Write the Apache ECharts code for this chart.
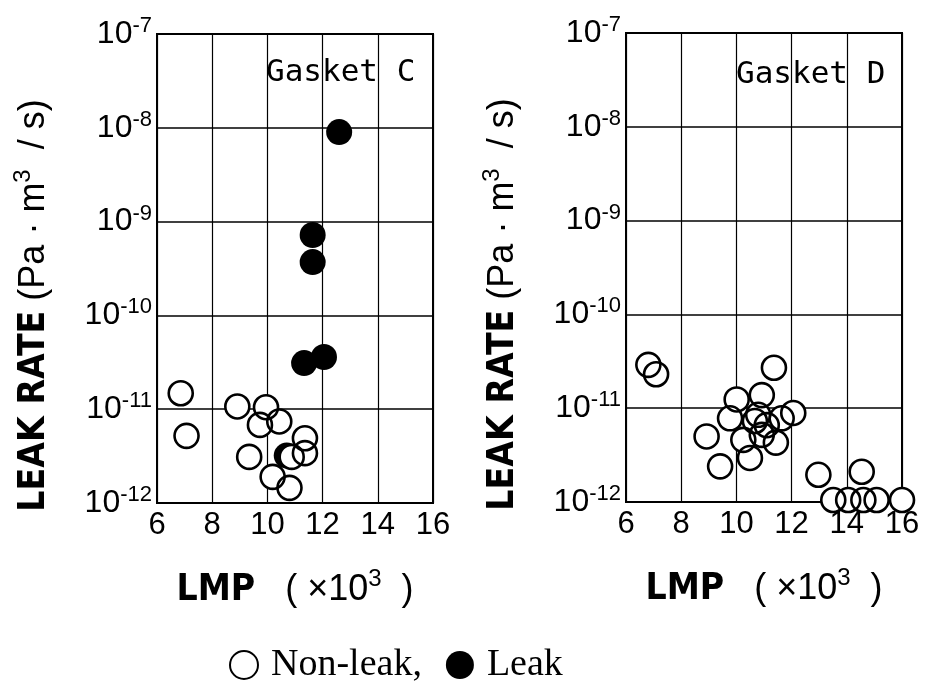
<!DOCTYPE html>
<html>
<head>
<meta charset="utf-8">
<script src="https://cdn.jsdelivr.net/npm/echarts@6/dist/echarts.min.js"></script>
<style>
html,body{margin:0;padding:0;background:#fff;}
#chart{width:930px;height:684px;}
</style>
</head>
<body>
<div id="chart"></div>
<script>
// ---- Data (LMP in 10^3, leak rate in Pa·m3/s) ----
const xTicks = [6, 8, 10, 12, 14, 16];
const yExponents = [-12, -11, -10, -9, -8, -7];

const gasketC_leak = [
  [12.6, 9e-9],
  [11.64, 7.2e-10],
  [11.64, 3.7e-10],
  [11.33, 3.1e-11],
  [12.05, 3.6e-11],
  [10.7, 3.2e-12]
];
const gasketC_nonleak = [
  [6.86, 1.48e-11],
  [7.07, 5.2e-12],
  [8.91, 1.07e-11],
  [9.95, 1.05e-11],
  [9.73, 6.8e-12],
  [10.43, 7.4e-12],
  [11.36, 4.9e-12],
  [11.36, 3.4e-12],
  [9.34, 3.1e-12],
  [10.88, 3.1e-12],
  [10.19, 1.9e-12],
  [10.8, 1.45e-12]
];
const gasketD_nonleak = [
  [6.81, 2.9e-11],
  [7.09, 2.3e-11],
  [11.36, 2.7e-11],
  [10.01, 1.24e-11],
  [10.92, 1.38e-11],
  [9.77, 7.8e-12],
  [8.92, 5.0e-12],
  [10.25, 4.6e-12],
  [10.67, 7.3e-12],
  [10.92, 5.2e-12],
  [11.10, 6.6e-12],
  [10.79, 8.5e-12],
  [11.43, 4.3e-12],
  [11.64, 7.8e-12],
  [12.06, 8.9e-12],
  [9.41, 2.4e-12],
  [10.49, 2.95e-12],
  [12.97, 1.95e-12],
  [14.54, 2.1e-12],
  [13.51, 1.05e-12],
  [14.05, 1.05e-12],
  [14.6, 1.05e-12],
  [15.08, 1.05e-12],
  [16.0, 1.05e-12]
];
const panelLabels = ['Gasket C', 'Gasket D'];
const legendNames = ['Non-leak', 'Leak'];

// ---- Styles ----
const sansFont = 'Liberation Sans';
const black = '#000';

function yLabel(v) {
  const e = Math.round(Math.log10(v));
  return '{b|10}{s|' + e + '}';
}
const yRich = {
  b: {fontSize: 32, fontFamily: sansFont, color: black, lineHeight: 38, verticalAlign: 'middle'},
  s: {fontSize: 22, fontFamily: sansFont, color: black, lineHeight: 22, verticalAlign: 'top'}
};
const nameRich = {
  l: {fontSize: 37, fontFamily: 'Liberation Sans Narrow, DejaVu Sans Condensed, Liberation Sans', fontWeight: 'bold', color: black, lineHeight: 46, verticalAlign: 'middle'},
  p: {fontSize: 36, fontFamily: sansFont, color: black, lineHeight: 46, verticalAlign: 'middle'},
  s: {fontSize: 24, fontFamily: sansFont, color: black, lineHeight: 24, verticalAlign: 'top'},
  g: {width: 74, lineHeight: 46}
};

function xAxisCfg(gi) {
  return {
    type: 'value', gridIndex: gi, min: xTicks[0], max: xTicks[xTicks.length - 1], interval: 2,
    axisLine: {show: true, lineStyle: {color: black, width: 2}},
    axisTick: {show: false},
    axisLabel: {color: black, fontSize: 31, fontFamily: sansFont, margin: 7},
    splitLine: {show: true, lineStyle: {color: black, width: 1.2}},
    name: '{l|LMP}{p|   ( ×10}{s|3}{p|  )}',
    nameLocation: 'middle', nameGap: 64,
    nameTextStyle: {rich: nameRich}
  };
}
function yAxisCfg(gi) {
  return {
    type: 'log', logBase: 10, gridIndex: gi,
    min: Math.pow(10, yExponents[0]), max: Math.pow(10, yExponents[yExponents.length - 1]),
    axisLine: {show: true, lineStyle: {color: black, width: 2}},
    axisTick: {show: false},
    axisLabel: {formatter: yLabel, rich: yRich, margin: 5},
    splitLine: {show: true, lineStyle: {color: black, width: 1.5}},
    name: '{l|LEAK RATE}{p| (Pa · m}{s|3}{p|  / s)}{g|}',
    nameLocation: 'middle', nameRotate: 90, nameGap: 100,
    nameTextStyle: {rich: nameRich}
  };
}

const symSize = 24;
function openFill(data, gi) {
  return {type: 'scatter', name: 'fill' + gi, xAxisIndex: gi, yAxisIndex: gi, data: data,
    symbol: 'circle', symbolSize: symSize, silent: true,
    itemStyle: {color: '#fff', borderWidth: 0, opacity: 1}};
}
function openRing(data, gi) {
  return {type: 'scatter', name: legendNames[0], xAxisIndex: gi, yAxisIndex: gi, data: data,
    symbol: 'circle', symbolSize: symSize,
    itemStyle: {color: 'rgba(255,255,255,0)', borderColor: black, borderWidth: 2.6, opacity: 1}};
}
function filled(data, gi) {
  return {type: 'scatter', name: legendNames[1], xAxisIndex: gi, yAxisIndex: gi, data: data,
    symbol: 'circle', symbolSize: symSize + 2,
    itemStyle: {color: black, opacity: 1}};
}

const chart = echarts.init(document.getElementById('chart'), null, {renderer: 'canvas'});
chart.setOption({
  backgroundColor: '#fff',
  animation: false,
  grid: [
    {left: 157, top: 34, width: 276, height: 469, show: true, borderColor: black, borderWidth: 2, backgroundColor: 'transparent'},
    {left: 626, top: 33, width: 276, height: 469, show: true, borderColor: black, borderWidth: 2, backgroundColor: 'transparent'}
  ],
  xAxis: [xAxisCfg(0), xAxisCfg(1)],
  yAxis: [yAxisCfg(0), yAxisCfg(1)],
  legend: {
    data: [
      {name: legendNames[0], icon: 'circle', itemStyle: {color: '#fff', borderColor: black, borderWidth: 2, opacity: 1}},
      {name: legendNames[1], icon: 'circle', itemStyle: {color: black, borderWidth: 0, opacity: 1}}
    ],
    left: 224, top: 641, itemWidth: 28, itemHeight: 28, itemGap: 24,
    selectedMode: false,
    formatter: function (n) { return n === legendNames[0] ? n + ',' : n; },
    textStyle: {fontFamily: 'Liberation Serif', fontSize: 38, color: black, padding: [0, 0, 0, 8]}
  },
  graphic: [
    {type: 'text', left: 266, top: 57, style: {text: panelLabels[0], font: '31px "DejaVu Sans Mono"', fill: black}},
    {type: 'text', left: 736, top: 59, style: {text: panelLabels[1], font: '31px "DejaVu Sans Mono"', fill: black}}
  ],
  series: [
    filled(gasketC_leak, 0),
    openFill(gasketC_nonleak, 0),
    openRing(gasketC_nonleak, 0),
    openFill(gasketD_nonleak, 1),
    openRing(gasketD_nonleak, 1)
  ]
});
</script>
</body>
</html>
